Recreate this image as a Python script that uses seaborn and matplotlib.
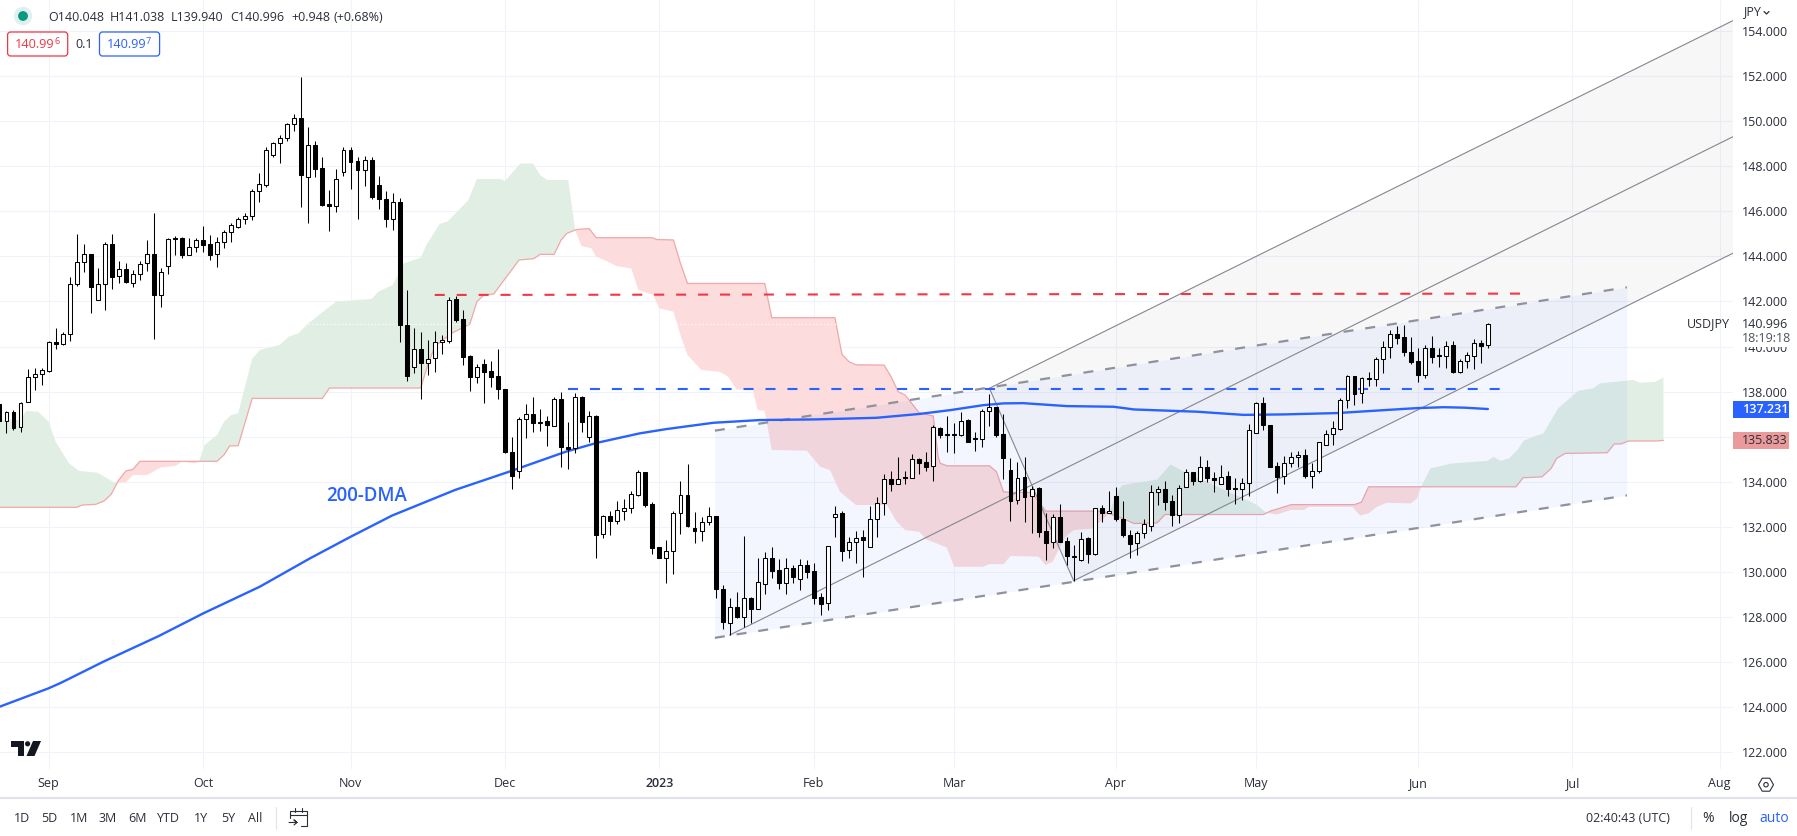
import matplotlib
matplotlib.use("Agg")
import matplotlib.pyplot as plt
import numpy as np
import seaborn as sns
from matplotlib.patches import Rectangle, FancyBboxPatch, Circle, Polygon, RegularPolygon
from matplotlib.lines import Line2D
from matplotlib.transforms import Affine2D

# ---------- data: daily candles, first entry is seven sessions before 1 Sep 2022 ----------
first_session = -7
direction = ("BWBWWWWWBW" "WWWBWWBWBW" "WWBWWBBWWB" "BWWWWWWWWW" "WWWBWBBBWW"
             "BBWBBBWBBW" "BWWWWBBBWB" "BBBBWWBWBW" "BBWBWBWBWW" "WWBBBWWWBB"
             "WWBBWBWBWW" "BBWBWBBBWW" "BWWBWWWBWB" "WBBWBBBWBB" "WWBBBWBWBB"
             "WBBBWBWBWB" "BBWWWWBBWW" "BWBBWBBWWW" "BBBWWWBWWW" "WWWBWBWWWB"
             "BBBWBBWBWW" "WBW")
highs = [137.48,137.15,137.18,137.53,139.0,139.06,139.06,140.23,140.82,140.63,
143.07,144.99,144.55,144.09,143.47,144.65,144.99,143.78,143.69,143.40,
143.78,144.73,145.91,143.47,144.80,144.90,144.85,144.80,144.80,145.35,
144.95,144.85,145.17,145.47,145.76,145.91,146.98,147.71,148.84,149.09,
149.39,149.93,150.32,151.94,149.76,149.12,148.39,146.95,147.88,148.84,
148.87,148.39,148.47,148.39,147.57,146.92,146.80,146.58,142.51,140.81,
140.63,140.29,140.70,140.51,142.21,142.24,141.62,139.62,139.22,139.43,
139.37,139.88,138.10,135.97,136.86,137.45,137.77,137.21,136.92,137.77,
138.0,136.67,137.92,137.80,137.14,136.96,132.52,132.70,133.15,133.26,
133.59,134.52,134.42,133.12,131.09,131.42,132.70,134.03,134.79,132.64,
132.45,132.88,132.47,129.42,128.83,129.12,131.59,128.90,130.60,130.87,
131.09,130.56,130.60,130.31,130.56,130.53,130.38,129.08,131.16,132.92,
132.70,131.53,131.81,131.86,132.92,133.31,134.33,134.49,135.11,134.49,
135.22,135.04,135.33,136.50,136.44,136.92,136.62,137.08,136.77,136.19,
137.21,137.88,137.30,137.01,135.04,134.89,135.08,133.81,133.75,132.63,
132.57,133.01,131.56,131.19,131.76,131.53,132.86,132.97,133.59,133.75,
133.14,131.86,131.83,132.37,133.85,133.81,134.03,133.41,133.85,134.55,
134.42,135.14,134.96,134.45,134.74,134.47,134.15,134.19,136.56,137.52,
137.76,136.52,134.87,135.14,135.33,135.36,135.44,134.82,135.75,136.32,
136.69,137.70,138.73,138.70,138.66,138.88,139.52,140.24,140.73,140.91,
140.95,140.41,139.92,140.07,140.46,139.95,140.24,140.24,139.44,139.74,
140.32,140.29,141.038]
body_tops = [137.44,137.08,137.11,137.48,138.66,138.77,138.96,140.19,140.19,140.54,
142.79,143.74,144.09,144.09,142.79,144.53,144.53,143.43,143.43,143.20,
143.68,144.09,144.09,143.29,144.76,144.80,144.82,144.40,144.71,144.71,
144.53,144.62,145.10,145.38,145.64,145.81,146.89,147.20,148.71,149.02,
149.24,149.87,150.12,150.12,148.93,148.93,147.91,146.31,147.42,148.71,
148.71,148.22,148.26,148.26,147.15,146.53,146.40,146.40,140.94,139.88,
139.88,139.46,140.19,140.30,142.08,142.09,141.21,139.58,139.11,139.21,
138.92,138.68,138.10,135.31,136.77,136.99,136.99,136.67,136.70,137.66,
137.66,135.56,137.77,137.77,136.92,136.92,132.48,132.48,132.73,132.86,
133.44,134.42,134.42,133.01,131.09,130.94,132.60,133.40,133.40,131.93,
132.20,132.47,132.47,129.23,128.43,128.43,128.83,128.83,129.54,130.60,
130.60,130.08,130.16,130.16,130.29,130.29,130.04,128.87,131.16,132.58,
132.60,131.31,131.52,131.53,132.33,133.07,134.11,134.11,134.11,134.20,
135.0,135.0,134.86,136.44,136.37,136.12,136.12,136.71,136.74,135.93,
137.12,137.30,137.30,136.10,134.51,134.18,134.20,133.69,133.72,131.80,
132.45,132.45,131.36,130.73,131.47,131.49,132.82,132.82,132.71,133.35,
132.37,131.66,131.75,132.11,133.56,133.66,133.66,133.14,133.71,134.42,
134.42,134.64,134.64,134.19,134.22,134.24,133.71,133.93,136.28,137.48,
137.48,136.52,134.68,134.82,135.08,135.17,135.17,134.50,135.75,136.10,
136.37,137.65,138.69,138.69,138.59,138.60,139.44,140.0,140.58,140.54,
140.41,139.78,139.34,139.92,139.95,139.61,140.04,140.05,139.34,139.61,
140.17,140.17,140.996]
body_bottoms = [136.71,136.71,136.37,136.41,137.55,138.66,138.77,138.91,140.13,140.10,
140.54,142.79,143.74,142.63,142.08,142.79,143.10,143.11,142.88,142.83,
143.20,143.69,142.30,142.30,143.59,144.76,144.06,144.08,144.40,144.52,
144.08,144.09,144.62,145.10,145.32,145.64,145.81,146.89,147.18,148.51,
149.02,149.24,149.86,147.63,147.51,147.89,146.29,146.25,146.25,147.73,
148.20,147.85,147.85,146.63,146.53,145.67,145.67,140.94,138.71,139.08,
139.26,139.26,139.48,140.19,140.26,141.17,139.55,138.63,138.63,138.89,
138.66,138.10,135.31,134.27,134.49,136.77,136.59,136.59,136.52,136.49,
135.56,135.45,135.48,136.67,135.97,131.64,131.67,132.27,132.27,132.72,
132.86,133.41,132.97,131.07,130.60,130.60,130.94,132.60,132.05,131.84,
131.84,132.20,129.23,127.79,127.72,128.01,128.01,128.38,128.38,129.45,
130.05,129.49,129.49,129.76,129.71,130.01,128.86,128.58,128.61,132.42,
130.94,130.96,131.31,131.40,131.09,132.33,133.07,133.91,133.91,134.15,
134.15,134.85,134.67,134.68,136.09,136.09,136.09,136.09,135.78,135.88,
135.88,137.12,136.09,135.04,133.16,133.18,133.34,133.35,131.78,131.30,
131.31,131.34,130.72,130.68,130.51,130.78,130.78,132.60,132.60,132.36,
131.65,131.25,131.27,131.74,132.06,133.57,133.11,132.52,132.55,133.78,
134.05,134.05,134.18,134.09,133.91,133.69,133.66,133.66,133.93,136.15,
136.50,134.67,134.22,134.24,134.82,135.08,134.25,134.27,134.49,135.64,
136.10,136.34,137.65,137.91,137.95,138.57,138.57,139.43,139.99,140.39,
139.77,139.33,138.76,138.76,139.55,139.56,139.59,138.87,138.88,139.34,
139.59,140.02,140.048]
lows = [136.52,136.18,136.30,136.22,137.55,138.07,138.29,138.86,139.89,140.07,
140.26,142.70,143.32,141.50,142.08,141.62,142.57,142.83,142.83,142.66,
142.95,143.37,140.35,141.77,143.22,144.06,143.91,144.06,144.21,144.21,
143.84,143.54,144.36,144.65,145.24,145.44,145.61,146.41,147.09,148.42,
148.16,149.13,149.56,146.21,145.50,147.54,146.24,145.14,145.98,147.58,
147.0,145.67,147.14,146.55,146.09,145.32,145.17,140.22,138.49,138.84,
137.69,138.74,138.89,139.65,140.17,141.10,139.18,138.04,138.40,137.51,
138.22,137.66,135.26,133.67,134.15,135.96,136.22,136.27,135.60,136.49,
134.67,134.55,135.26,136.22,135.78,130.60,131.52,131.64,132.15,132.30,
132.63,133.37,132.89,130.78,130.60,129.52,129.91,131.68,132.01,131.30,
131.39,132.08,128.83,127.47,127.20,127.98,127.57,127.72,128.38,129.02,
129.74,129.23,129.02,129.52,129.20,129.74,128.56,128.09,128.31,131.53,
130.50,130.60,130.38,129.79,131.09,131.53,132.52,133.59,133.91,133.91,
134.15,134.34,134.49,134.05,135.93,135.33,135.30,136.03,135.78,135.38,
135.56,136.49,135.97,134.12,132.27,133.01,132.23,131.74,131.56,130.53,
131.05,131.34,130.31,129.61,130.50,130.41,130.76,132.23,132.60,132.27,
131.53,130.64,130.75,131.52,131.83,132.97,132.74,132.03,132.18,133.75,
133.85,134.0,134.0,133.56,133.90,133.38,133.01,133.19,133.38,136.15,
136.29,134.67,133.51,133.90,134.67,134.67,134.15,133.74,134.40,135.64,
135.63,136.29,137.28,137.40,137.51,138.26,138.25,138.84,139.50,140.11,
139.58,139.22,138.42,138.62,139.28,139.10,139.03,138.81,138.81,139.04,
139.0,139.28,139.94]

# Ichimoku cloud edges
span_a_x = [-7,-4,-3.2,-1.5,0,1,2.9,4.3,7,9.4,9.8,11,12,14,16,18,19,20.9,21.4,22.2,24,25,26,27,29,30.1,32.9,34.2,35.6,37,39.4,41,46,47,49,50.6,53,53.8,55.7,56.8,59.8,61,64.5,65,67.2,69,70,71,74,75,75.9,77.3,78,79.7,80.9,83,84,86.1,87,89,90,91,93,95.6,96.8,98,100.3,101,102,103,108,109.9,111.3,112.7,115,119.4,120.8,122,124,125,127.9,129,133.1,134,136,137,141,142,143,144.8,146,148.8,149.8,151,152.4,152.9,157.9,159.8,161.7,171.2,172.1,173.5,175,176.9,178.8,179.5,185.7,186.8,188,189.2,190.6,194,194.9,195.5,196.8,199.7,204.9,205.8,206.8,208,209.2,210.1,211.5,212.9,215,217.9,220,221,224.3,225.7,226.6,228.8,230]
span_a_y = [136.74,136.74,137.15,137.11,136.67,135.78,134.82,134.49,134.4,133.96,133.97,133.97,134.3,134.3,134.64,134.7,134.89,134.82,134.89,135.63,136.08,136.67,136.96,137.04,139.47,139.85,140.07,140.44,140.59,141.03,141.62,142.0,142.11,142.44,142.73,143.69,143.94,144.5,145.44,145.54,146.5,147.43,147.43,147.34,148.12,148.12,147.61,147.39,147.39,145.17,144.46,144.36,143.99,143.76,143.57,143.47,142.51,142.29,141.69,141.55,140.51,139.62,138.96,138.88,138.66,138.10,138.07,137.18,137.15,135.41,135.38,134.67,134.52,133.56,132.97,132.97,132.23,131.86,131.78,131.45,131.09,130.23,130.23,130.35,130.34,130.71,130.68,130.31,130.45,131.56,131.86,131.93,132.23,132.6,133.63,133.85,134.1,134.77,134.45,133.12,132.97,132.62,132.55,132.75,132.75,132.89,132.89,132.5,132.6,132.89,133.07,133.04,133.26,133.78,134.59,134.81,134.93,135.11,134.93,135.04,135.41,135.82,136.0,136.15,137.26,138.04,138.15,138.37,138.47,138.52,138.4,138.43,138.63]
span_b_x = [-7,4,4.8,6.7,7.9,8.9,9.8,10,11,12,13,21.4,24,25,25.8,27,29,39,40,53,54,55,56,57.4,60,61,62,63.4,64.5,65.6,67,69.1,70,72,73,73.8,75,75.4,77,78,86,86.6,89,90,91,102,103,112,113,114,115,119,120,121,122,124,126,126.7,127,128,134,135,136,137,140,141,142,150,151,153,154.6,157.9,159,173,173.5,174,176,177,186,187,188,195.5,209,210,212.7,214,214.8,216,222,223,224,225,229,230]
span_b_y = [132.87,132.87,132.97,133.0,133.15,133.44,133.97,134.08,134.48,134.55,134.91,134.91,134.91,135.2,135.6,135.6,137.70,137.70,138.16,138.16,139.18,140.0,140.26,140.59,141.0,141.99,142.29,142.33,142.8,143.25,143.84,143.9,144.09,144.09,144.73,145.02,145.17,145.2,145.23,144.83,144.83,144.75,144.73,143.69,142.8,142.8,141.28,141.28,139.65,139.33,139.19,139.18,138.66,138.0,137.85,137.06,136.92,135.11,134.82,134.71,134.71,134.45,133.56,133.53,133.53,133.12,132.70,132.70,132.6,132.37,132.15,132.18,132.55,132.55,132.62,132.70,132.89,132.99,132.99,133.1,133.78,133.78,133.78,134.18,134.22,134.59,135.04,135.26,135.29,135.68,135.68,135.81,135.81,135.84]

# 200-day moving average
dma_x = [-7,0,1.8,7.8,15.7,22,30.1,37.2,43,48.9,57.9,65.6,73.7,78.1,84.2,88,94.7,101.3,109.4,117.9,124,128.4,133.1,136,138.8,145,151.7,154.6,163.6,170.2,175.9,183.5,190.2,194.9,198.7,201.6,205]
dma_y = [124.02,124.84,125.09,126.02,127.16,128.16,129.35,130.6,131.56,132.5,133.64,134.45,135.34,135.73,136.15,136.34,136.62,136.74,136.77,136.84,137.01,137.18,137.4,137.48,137.49,137.36,137.33,137.21,137.11,136.97,136.99,137.05,137.18,137.27,137.31,137.29,137.23]

# drawn levels and channels
resistance_x, resistance_y = [55, 210], [142.29, 142.35]
support_x, support_y = [74, 207], [138.10, 138.10]
channel_x = [94.9, 224.8]
channel_upper = [136.27, 142.63]
channel_lower = [127.08, 133.40]
fork_top_x, fork_top_y = [134, 239.9], [138.15, 154.46]
fork_mid_x, fork_mid_y = [97, 239.9], [127.2, 149.31]
fork_bot_x, fork_bot_y = [146, 239.9], [129.61, 144.14]
last_close = 140.996

month_pos = [0, 22, 43, 65, 87, 109, 129, 152, 172, 195, 217, 238]
month_lab = ["Sep", "Oct", "Nov", "Dec", "2023", "Feb", "Mar", "Apr", "May", "Jun", "Jul", "Aug"]
price_ticks = list(range(122, 156, 2))
range_buttons = [("1D", 13.8), ("5D", 41.3), ("1M", 69.7), ("3M", 98.7), ("6M", 128.2),
                 ("YTD", 157), ("1Y", 194.4), ("5Y", 221.2), ("All", 248.4)]
ohlc_header = [("O140.048", 48.6), ("H141.038", 110), ("L139.940", 171), ("C140.996", 230),
               ("+0.948", 291), ("(+0.68%)", 334)]

# ---------- styling ----------
sns.set_theme(style="white", rc={"lines.scale_dashes": False})
plt.rcParams["font.family"] = ["Open Sans", "DejaVu Sans"]
W, H = 1797, 836
INK = "#2a2e39"
BLUE = "#2962ff"
RED = "#f23645"
GREY = "#8f929c"
DASH = (0, (7.2, 8.6))

fig = plt.figure(figsize=(W / 100, H / 100), dpi=100, facecolor="white")
ax = fig.add_axes([0, 1 - 769 / H, 1733 / W, 769 / H])
ax.set_facecolor("white")
PX = Affine2D().scale(1, -1).translate(0, H)


def label(x, y, s, ha="left", size=9.0, color=INK, z=12, **kw):
    fig.text(x, y, s, transform=PX, ha=ha, va="center", fontsize=size, color=color, zorder=z, **kw)


# cloud
ax_a, ay_a = np.array(span_a_x), np.array(span_a_y)
bx_b, by_b = np.array(span_b_x), np.array(span_b_y)
GREEN_FILL, RED_FILL = "#e0eee3", "#fcdcdc"
zones = [(-7, 9.8, GREEN_FILL), (9.8, 21.4, RED_FILL), (21.4, 75, GREEN_FILL), (75, 151, RED_FILL),
         (151, 173.5, GREEN_FILL), (173.5, 195.5, RED_FILL), (195.5, 230, GREEN_FILL)]
for start, end, col in zones:
    ma = (ax_a >= start) & (ax_a <= end)
    mb = (bx_b >= start) & (bx_b <= end)
    ax.fill(np.r_[ax_a[ma], bx_b[mb][::-1]], np.r_[ay_a[ma], by_b[mb][::-1]], color=col, lw=0, zorder=1)
sns.lineplot(x=span_b_x, y=span_b_y, ax=ax, color="#f0a8a8", lw=0.9, sort=False, estimator=None,
             errorbar=None, legend=False, zorder=2)

ax.hlines(last_close, -7, 240, color="white", lw=0.7, linestyles=":", zorder=2.2)

# channels
ax.fill(fork_top_x[:1] + fork_bot_x + fork_top_x[1:], fork_top_y[:1] + fork_bot_y + fork_top_y[1:],
        color="#787b86", alpha=0.06, lw=0, zorder=2.4)
ax.fill_between(channel_x, channel_lower, channel_upper, color=BLUE, alpha=0.05, lw=0, zorder=2.5)
for xs, ys in [(fork_top_x, fork_top_y), (fork_mid_x, fork_mid_y), (fork_bot_x, fork_bot_y),
               ([fork_top_x[0], fork_bot_x[0]], [fork_top_y[0], fork_bot_y[0]])]:
    ax.plot(xs, ys, color="#85878f", lw=0.8, zorder=3)
ax.plot(channel_x, channel_upper, color=GREY, lw=1.6, ls=DASH, zorder=3)
ax.plot(channel_x, channel_lower, color=GREY, lw=1.6, ls=DASH, zorder=3)

# levels and moving average
ax.plot(resistance_x, resistance_y, color=RED, lw=1.5, ls=DASH, zorder=3.4)
ax.plot(support_x, support_y, color=BLUE, lw=1.5, ls=DASH, zorder=3.4)
sns.lineplot(x=dma_x, y=dma_y, ax=ax, color=BLUE, lw=1.7, sort=False, estimator=None,
             errorbar=None, legend=False, zorder=3.5)

# candles
idx = np.arange(first_session, first_session + len(highs))
ax.vlines(idx, lows, highs, color="black", lw=0.75, zorder=4)
tops, bottoms = np.array(body_tops), np.array(body_bottoms)
faces = ["white" if d == "W" else "black" for d in direction]
ax.bar(idx, tops - bottoms, bottom=bottoms, width=0.56, color=faces, edgecolor="black", lw=0.75, zorder=5)

# axes
ax.set_xlim(-6.922, 239.91)
ax.set_ylim(121.26, 155.375)
ax.set_xticks(month_pos, month_lab)
ax.set_yticks(price_ticks, [f"{p}.000" for p in price_ticks])
ax.yaxis.tick_right()
ax.tick_params(axis="x", length=0, pad=5.5, labelsize=9.0, labelcolor=INK)
ax.tick_params(axis="y", length=0, pad=6.2, labelsize=9.0, labelcolor=INK)
ax.get_xticklabels()[4].set_fontweight("semibold")
ax.set_axisbelow(True)
ax.grid(True, color="#f0f3fa", lw=0.8)
ax.set_xlabel("")
ax.set_ylabel("")
sns.despine(ax=ax, left=True, bottom=True, right=True, top=True)
ax.text(326 / 7.021 - 6.922, 133.36, "200-DMA", color=BLUE, fontsize=13.4, fontweight="semibold",
        va="center", ha="left", zorder=6)

# header
fig.add_artist(Circle((23, 16), 8.5, transform=PX, color="#dff1ee", zorder=10))
fig.add_artist(Circle((23, 16), 4.2, transform=PX, color="#089981", zorder=11))
for s, x in ohlc_header:
    label(x, 17.5, s)
for x0, x1, col, digits, tail in [(7.6, 67.7, RED, "140.99", "6"), (99.5, 159.6, BLUE, "140.99", "7")]:
    fig.add_artist(FancyBboxPatch((x0 + 2, 34), x1 - x0 - 4, 20, boxstyle="round,pad=2,rounding_size=3",
                                  transform=PX, fc="white", ec=col, lw=0.9, zorder=10))
    label(x0 + 7.7, 44.5, digits, color=col, size=9.2)
    label(x0 + 46.5, 42, tail, color=col, size=6.5)
label(75.8, 44, "0.1")

# right-hand scale extras
label(1743, 12, "JPY")
fig.add_artist(Line2D([1764, 1766.5, 1769], [11.5, 14, 11.5], transform=PX, color=INK, lw=0.9, zorder=12))
fig.add_artist(Rectangle((1733, 316), 56, 30.5, transform=PX, color="white", lw=0, zorder=10))
label(1686.5, 324, "USDJPY")
label(1741.7, 324, "140.996")
label(1741.7, 338.5, "18:19:18", color="#50535e")
fig.add_artist(Rectangle((1733, 401), 56, 16.7, transform=PX, color=BLUE, lw=0, zorder=10))
label(1741.7, 409.5, "137.231", color="white", fontweight="semibold")
fig.add_artist(Rectangle((1733, 432), 56, 17, transform=PX, color="#ea9a9a", lw=0, zorder=10))
label(1741.7, 440.5, "135.833")

# bottom bar
fig.add_artist(Line2D([0, W], [798, 798], transform=PX, color="#e0e3eb", lw=1.5, zorder=10))
for s, x in range_buttons:
    label(x, 818, s)
fig.add_artist(Line2D([275.5, 275.5], [807, 829], transform=PX, color="#e0e3eb", lw=0.8, zorder=10))
fig.add_artist(Line2D([1691, 1691], [807, 829], transform=PX, color="#e0e3eb", lw=0.8, zorder=10))
label(1586.5, 818, "02:40:43 (UTC)")
label(1702.7, 818, "%", size=10)
label(1728.6, 818, "log", size=10)
label(1759, 818, "auto", size=10, color=BLUE)
fig.add_artist(Line2D([290, 290, 307, 307, 301], [818, 811, 811, 826, 826], transform=PX, color=INK, lw=0.8, zorder=12))
fig.add_artist(Line2D([290, 307], [814.5, 814.5], transform=PX, color=INK, lw=0.8, zorder=12))
fig.add_artist(Line2D([295, 295], [808, 812], transform=PX, color=INK, lw=0.8, zorder=12))
fig.add_artist(Line2D([302, 302], [808, 812], transform=PX, color=INK, lw=0.8, zorder=12))
fig.add_artist(Line2D([289, 297, 294, 297, 294], [822.5, 822.5, 820, 822.5, 825], transform=PX, color=INK, lw=0.8, zorder=12))
fig.add_artist(RegularPolygon((1766, 784.7), 6, radius=7.5, orientation=np.pi / 6, transform=PX,
                              fc="white", ec=INK, lw=0.8, zorder=12))
fig.add_artist(Circle((1766, 784.7), 2.2, transform=PX, fc="white", ec=INK, lw=0.8, zorder=13))

# TradingView mark
LOGO = "#131722"
fig.add_artist(Polygon([(10.7, 741), (24, 741), (24, 756), (17.5, 756), (17.5, 746.5), (10.7, 746.5)],
                       transform=PX, color=LOGO, lw=0, zorder=12))
fig.add_artist(Circle((27.6, 743.8), 2.6, transform=PX, color=LOGO, lw=0, zorder=12))
fig.add_artist(Polygon([(33, 741), (41, 741), (34.5, 756), (26.5, 756)], transform=PX, color=LOGO, lw=0, zorder=12))

fig.savefig("out.png", dpi=100, facecolor="white")
